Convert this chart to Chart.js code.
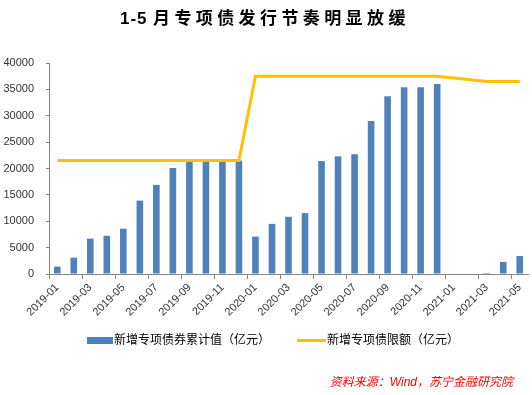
<!DOCTYPE html>
<html>
<head>
<meta charset="utf-8">
<script src="https://cdn.jsdelivr.net/npm/chart.js@4.4.0/dist/chart.umd.min.js"></script>
<style>
  html, body { margin: 0; padding: 0; background: #fff; }
  #wrap { width: 532px; height: 395px; }
</style>
</head>
<body>
<div id="wrap"><canvas id="chart" width="532" height="395"></canvas></div>
<script>
// chart data
const months = [
    '2019-01', '2019-02', '2019-03', '2019-04', '2019-05', '2019-06',
    '2019-07', '2019-08', '2019-09', '2019-10', '2019-11', '2019-12',
    '2020-01', '2020-02', '2020-03', '2020-04', '2020-05', '2020-06',
    '2020-07', '2020-08', '2020-09', '2020-10', '2020-11', '2020-12',
    '2021-01', '2021-02', '2021-03', '2021-04', '2021-05'
];
const issuedTotal = [
    1400, 3100, 6700, 7250, 8600, 13900, 16900, 20100, 21300, 21300, 21300, 21500,
    7100, 9500, 10850, 11550, 21400, 22300, 22700, 29000, 33700, 35400, 35400, 36000,
    0, 0, 200, 2300, 3400
];
const quota = [
    21500, 21500, 21500, 21500, 21500, 21500, 21500, 21500, 21500, 21500, 21500, 21500,
    37500, 37500, 37500, 37500, 37500, 37500, 37500, 37500, 37500, 37500, 37500, 37500,
    null, null, 36500, 36500, 36500
];
const yTicks = [0, 5000, 10000, 15000, 20000, 25000, 30000, 35000, 40000];

const titleLead = '1-5';
const titleRest = '月专项债发行节奏明显放缓';
const sourceText = '资料来源：Wind，苏宁金融研究院';
const barLabel = '新增专项债券累计值（亿元）';
const lineLabel = '新增专项债限额（亿元）';

const barColor = '#4F81BD';
const lineColor = '#FFC000';
const axisColor = '#868686';
const fontFamily = '"Liberation Sans", Arial, "Noto Sans CJK SC", sans-serif';

// title, legend and source note drawn on the canvas
const extraText = {
    id: 'extraText',
    afterDraw(chart) {
        const ctx = chart.ctx;
        ctx.save();

        // title
        ctx.font = 'bold 17px ' + fontFamily;
        ctx.fillStyle = '#000';
        ctx.textAlign = 'left';
        ctx.textBaseline = 'middle';
        ctx.letterSpacing = '1px';
        ctx.fillText(titleLead, 120, 19);
        ctx.letterSpacing = '4.4px';
        ctx.fillText(titleRest, 153, 19);
        ctx.letterSpacing = '0px';

        // legend
        ctx.font = '12px ' + fontFamily;
        ctx.fillStyle = barColor;
        ctx.fillRect(87, 337, 26, 7);
        ctx.fillStyle = '#000';
        ctx.fillText(barLabel, 114, 341);

        ctx.strokeStyle = lineColor;
        ctx.lineWidth = 3;
        ctx.beginPath();
        ctx.moveTo(297, 340.5);
        ctx.lineTo(326, 340.5);
        ctx.stroke();
        ctx.fillText(lineLabel, 327, 341);

        // source
        ctx.font = 'italic 12px ' + fontFamily;
        ctx.fillStyle = '#FF0000';
        ctx.textAlign = 'right';
        ctx.fillText(sourceText, 513, 383);

        ctx.restore();
    }
};

const ctx = document.getElementById('chart').getContext('2d');
const chart = new Chart(ctx, {
    data: {
        labels: months,
        datasets: [{
            type: 'line',
            label: lineLabel,
            data: quota,
            borderColor: lineColor,
            backgroundColor: lineColor,
            borderWidth: 3,
            pointRadius: 0,
            spanGaps: true,
            tension: 0,
            order: 0
        }, {
            type: 'bar',
            label: barLabel,
            data: issuedTotal,
            backgroundColor: barColor,
            categoryPercentage: 1,
            barPercentage: 0.4,
            order: 1
        }]
    },
    options: {
        responsive: false,
        animation: false,
        layout: {
            padding: { top: 63, right: 4, bottom: 77, left: 0 }
        },
        plugins: {
            legend: { display: false },
            title: { display: false },
            tooltip: { enabled: false }
        },
        scales: {
            x: {
                offset: true,
                grid: {
                    offset: true,
                    drawOnChartArea: false,
                    drawTicks: true,
                    tickLength: 5,
                    color: (c) => (c.index % 2 === 0 ? axisColor : 'rgba(0,0,0,0)')
                },
                border: { color: axisColor, width: 1 },
                ticks: {
                    autoSkip: false,
                    minRotation: 45,
                    maxRotation: 45,
                    padding: 2,
                    color: '#333',
                    font: { family: fontFamily, size: 11 },
                    callback: function(value, index) {
                        return index % 2 === 0 ? this.getLabelForValue(value) : '';
                    }
                },
                afterFit: (scale) => { scale.height = 44; }
            },
            y: {
                min: yTicks[0],
                max: yTicks[yTicks.length - 1],
                grid: {
                    drawOnChartArea: false,
                    drawTicks: true,
                    tickLength: 3,
                    color: axisColor
                },
                border: { color: axisColor, width: 1 },
                afterBuildTicks: (scale) => {
                    scale.ticks = yTicks.map(v => ({ value: v }));
                },
                ticks: {
                    padding: 12,
                    color: '#333',
                    font: { family: fontFamily, size: 11 },
                    callback: (value) => String(value)
                },
                afterFit: (scale) => { scale.width = 49; }
            }
        }
    },
    plugins: [extraText]
});
</script>
</body>
</html>
